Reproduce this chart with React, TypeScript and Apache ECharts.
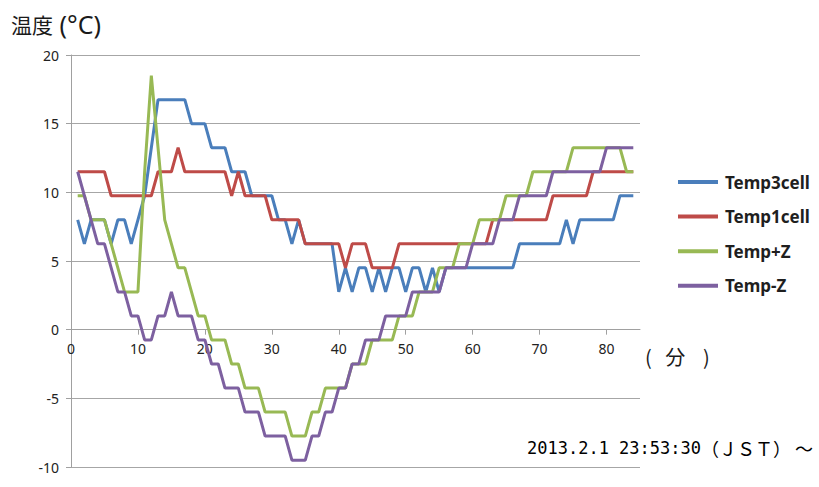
import React, { useEffect, useRef } from "react";
import * as echarts from "echarts";

// minute index for each sample is its position (1..84)
const seriesNames = ["Temp3cell", "Temp1cell", "Temp+Z", "Temp-Z"];
const seriesColors = ["#4A7EBB", "#BE4B48", "#98B954", "#7D60A0"];

const temp3cell = [
  8, 6.25, 8, 8, 8, 6.25, 8, 8, 6.25, 8,
  9.75, 13.25, 16.75, 16.75, 16.75, 16.75, 16.75, 15, 15, 15,
  13.25, 13.25, 13.25, 11.5, 11.5, 11.5, 9.75, 9.75, 9.75, 9.75,
  8, 8, 6.25, 8, 6.25, 6.25, 6.25, 6.25, 6.25, 2.75,
  4.5, 2.75, 4.5, 4.5, 2.75, 4.5, 2.75, 4.5, 4.5, 2.75,
  4.5, 4.5, 2.75, 4.5, 2.75, 4.5, 4.5, 4.5, 4.5, 4.5,
  4.5, 4.5, 4.5, 4.5, 4.5, 4.5, 6.25, 6.25, 6.25, 6.25,
  6.25, 6.25, 6.25, 8, 6.25, 8, 8, 8, 8, 8,
  8, 9.75, 9.75, 9.75,
];

const temp1cell = [
  11.5, 11.5, 11.5, 11.5, 11.5, 9.75, 9.75, 9.75, 9.75, 9.75,
  9.75, 9.75, 11.5, 11.5, 11.5, 13.25, 11.5, 11.5, 11.5, 11.5,
  11.5, 11.5, 11.5, 9.75, 11.5, 9.75, 9.75, 9.75, 9.75, 8,
  8, 8, 8, 8, 6.25, 6.25, 6.25, 6.25, 6.25, 6.25,
  4.5, 6.25, 6.25, 6.25, 4.5, 4.5, 4.5, 4.5, 6.25, 6.25,
  6.25, 6.25, 6.25, 6.25, 6.25, 6.25, 6.25, 6.25, 6.25, 6.25,
  6.25, 6.25, 8, 8, 8, 8, 8, 8, 8, 8,
  8, 9.75, 9.75, 9.75, 9.75, 9.75, 9.75, 11.5, 11.5, 11.5,
  11.5, 11.5, 11.5, 11.5,
];

const tempPlusZ = [
  9.75, 9.75, 8, 8, 8, 6.25, 4.5, 2.75, 2.75, 2.75,
  11.5, 18.5, 13.25, 8, 6.25, 4.5, 4.5, 2.75, 1, 1,
  -0.75, -0.75, -0.75, -2.5, -2.5, -4.25, -4.25, -4.25, -6, -6,
  -6, -6, -7.75, -7.75, -7.75, -6, -6, -4.25, -4.25, -4.25,
  -4.25, -2.5, -2.5, -2.5, -0.75, -0.75, -0.75, -0.75, 1, 1,
  1, 2.75, 2.75, 2.75, 4.5, 4.5, 4.5, 6.25, 6.25, 6.25,
  8, 8, 8, 8, 9.75, 9.75, 9.75, 9.75, 11.5, 11.5,
  11.5, 11.5, 11.5, 11.5, 13.25, 13.25, 13.25, 13.25, 13.25, 13.25,
  13.25, 13.25, 11.5, 11.5,
];

const tempMinusZ = [
  11.5, 9.75, 8, 6.25, 6.25, 4.5, 2.75, 2.75, 1, 1,
  -0.75, -0.75, 1, 1, 2.75, 1, 1, 1, -0.75, -0.75,
  -2.5, -2.5, -4.25, -4.25, -4.25, -6, -6, -6, -7.75, -7.75,
  -7.75, -7.75, -9.5, -9.5, -9.5, -7.75, -7.75, -6, -6, -4.25,
  -4.25, -2.5, -2.5, -0.75, -0.75, -0.75, 1, 1, 1, 1,
  2.75, 2.75, 2.75, 2.75, 2.75, 4.5, 4.5, 4.5, 4.5, 6.25,
  6.25, 6.25, 6.25, 8, 8, 8, 9.75, 9.75, 9.75, 9.75,
  9.75, 11.5, 11.5, 11.5, 11.5, 11.5, 11.5, 11.5, 11.5, 13.25,
  13.25, 13.25, 13.25, 13.25,
];

const xTickValues = [0, 10, 20, 30, 40, 50, 60, 70, 80];
const yTickValues = [-10, -5, 0, 5, 10, 15, 20];

const titleMain = "温度";
const titleUnit = " (°C)";
const xUnitText = "(   分    )";
const timeDate = "2013.2.1 23:53:30";
const timeZone = "（ＪＳＴ） ～";

const allSeries = [temp3cell, temp1cell, tempPlusZ, tempMinusZ];

export default function App() {
  const ref = useRef<HTMLDivElement>(null);
  useEffect(() => {
    if (!ref.current) return;
    const chart = echarts.init(ref.current, null, { renderer: "svg" });
    const axisColor = "#a0a0a0";
    const gridTop = 55;
    const gridBottom = 20;
    const plotH = 487 - gridTop - gridBottom;
    const yMin = yTickValues[0];
    const yMax = yTickValues[yTickValues.length - 1];
    const zeroOffset = -(plotH * (0 - yMin)) / (yMax - yMin);
    chart.setOption({
      animation: false,
      backgroundColor: "#ffffff",
      grid: { left: 71, right: 179, top: gridTop, bottom: gridBottom, containLabel: false },
      xAxis: {
        type: "value",
        min: 0,
        max: 85,
        interval: 10,
        position: "bottom",
        offset: zeroOffset,
        axisLine: { onZero: false, lineStyle: { color: axisColor, width: 1 } },
        axisTick: { show: true, length: 5, customValues: xTickValues, lineStyle: { color: axisColor } },
        axisLabel: {
          customValues: xTickValues,
          color: "#222",
          fontSize: 14,
          fontFamily: "Noto Sans",
          margin: 12,
        },
        splitLine: { show: false },
      },
      yAxis: {
        type: "value",
        min: yMin,
        max: yMax,
        interval: 5,
        axisLine: { show: true, lineStyle: { color: axisColor, width: 1 } },
        axisTick: { show: true, length: 5, lineStyle: { color: axisColor } },
        axisLabel: { color: "#222", fontSize: 14, fontFamily: "Noto Sans", margin: 12 },
        splitLine: { show: true, showMinLine: true, showMaxLine: true, lineStyle: { color: "#a6a6a6", width: 1 } },
      },
      legend: {
        orient: "vertical",
        left: 673,
        top: 167,
        itemWidth: 40,
        itemHeight: 4,
        itemGap: 14.6,
        icon: "rect",
        data: seriesNames,
        textStyle: {
          fontSize: 17,
          fontFamily: "Noto Sans",
          fontWeight: "bold",
          color: "#1f1f1f",
          lineHeight: 20,
          padding: [0, 0, 0, 2],
        },
      },
      series: allSeries.map((vals, si) => ({
        name: seriesNames[si],
        type: "line",
        symbol: "none",
        data: vals.map((v, i) => [i + 1, v]),
        lineStyle: { width: 3, color: seriesColors[si] },
        itemStyle: { color: seriesColors[si] },
        z: 2 + si,
      })),
      graphic: [
        {
          type: "text",
          left: 11,
          top: 11,
          style: {
            text: "{a|" + titleMain + "}{b|" + titleUnit + "}",
            fill: "#1a1a1a",
            rich: {
              a: { fontSize: 21, fontFamily: "Noto Sans CJK JP", fill: "#1a1a1a", lineHeight: 30 },
              b: { fontSize: 25, fontFamily: "Noto Sans", fill: "#1a1a1a", lineHeight: 30 },
            },
          },
        },
        {
          type: "text",
          left: 645,
          top: 346,
          style: { text: xUnitText, fontSize: 20, fontFamily: "Noto Sans CJK JP", fill: "#1a1a1a" },
        },
        {
          type: "text",
          left: 527,
          top: 439,
          style: {
            text: "{a|" + timeDate + "}{b|" + timeZone + "}",
            fill: "#000",
            rich: {
              a: { fontSize: 17, fontFamily: "DejaVu Sans Mono", fill: "#000", lineHeight: 22 },
              b: { fontSize: 18, fontFamily: "Noto Sans CJK JP", fill: "#000", lineHeight: 22 },
            },
          },
        },
      ],
    });
    return () => chart.dispose();
  }, []);
  return (
    <div
      ref={ref}
      style={{ position: "fixed", left: 0, top: 0, width: 819, height: 487, background: "#fff" }}
    />
  );
}
